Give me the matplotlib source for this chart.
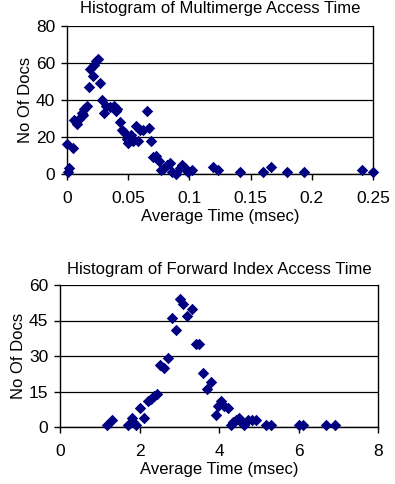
import numpy as np
from matplotlib import pyplot as plt

plt.rcParams["font.family"] = ["Liberation Sans", "DejaVu Sans"]

# Multimerge access time (msec) vs number of docs
mm_time = [0.000, 0.001, 0.002, 0.005, 0.006, 0.008, 0.010, 0.012, 0.013, 0.014,
           0.016, 0.018, 0.019, 0.021, 0.022, 0.024, 0.025, 0.027, 0.029, 0.030,
           0.032, 0.035, 0.038, 0.040, 0.041, 0.043, 0.045, 0.047, 0.049, 0.050,
           0.052, 0.054, 0.056, 0.058, 0.060, 0.062, 0.065, 0.067, 0.069, 0.070,
           0.073, 0.075, 0.077, 0.079, 0.082, 0.084, 0.086, 0.089, 0.092, 0.094,
           0.096, 0.099, 0.102, 0.119, 0.123, 0.141, 0.160, 0.167, 0.180, 0.194,
           0.241, 0.250]
mm_docs = [16, 1, 3, 14, 29, 27, 30, 33, 32, 35,
           37, 47, 57, 53, 59, 61, 62, 49, 40, 33,
           37, 36, 37, 34, 35, 28, 24, 22, 19, 17,
           21, 18, 26, 18, 24, 24, 34, 25, 18, 9,
           10, 7, 2, 3, 5, 6, 1, 0, 3, 5,
           3, 1, 2, 4, 2, 1, 1, 4, 1, 1,
           2, 1]

# Forward index access time (msec) vs number of docs
fi_time = [1.19, 1.31, 1.70, 1.80, 1.84, 1.91, 2.01, 2.11, 2.22, 2.30,
           2.36, 2.43, 2.51, 2.61, 2.71, 2.81, 2.91, 3.02, 3.10, 3.20,
           3.31, 3.42, 3.50, 3.60, 3.71, 3.79, 3.92, 3.98, 4.06, 4.12,
           4.23, 4.29, 4.36, 4.44, 4.51, 4.56, 4.63, 4.73, 4.84, 4.92,
           5.19, 5.30, 6.01, 6.11, 6.68, 6.91]
fi_docs = [1, 3, 1, 4, 2, 1, 8, 4, 11, 12,
           13, 14, 26, 25, 29, 46, 41, 54, 52, 47,
           50, 35, 35, 23, 16, 19, 5, 9, 11, 9,
           8, 1, 2, 3, 4, 2, 1, 3, 3, 3,
           1, 1, 1, 1, 1, 1]

mm_xticks = [0, 0.05, 0.1, 0.15, 0.2, 0.25]
mm_xlabels = ["0", "0.05", "0.1", "0.15", "0.2", "0.25"]
mm_yticks = [0, 20, 40, 60, 80]
fi_xticks = [0, 2, 4, 6, 8]
fi_yticks = [0, 15, 30, 45, 60]

navy = "#000080"

fig = plt.figure(figsize=(3.95, 4.84), dpi=100)
ax1 = fig.add_axes([67 / 395, 1 - 174 / 484, (373 - 67) / 395, (174 - 26) / 484])
ax2 = fig.add_axes([60 / 395, 1 - 427 / 484, (378 - 60) / 395, (427 - 285) / 484])


def style(ax):
    for s in ax.spines.values():
        s.set_linewidth(1.0)
        s.set_color("black")
    ax.spines["top"].set_visible(False)
    ax.yaxis.grid(True, color="black", linewidth=0.9)
    ax.set_axisbelow(True)
    ax.tick_params(axis="both", direction="out", length=4.5, width=1,
                   labelsize=12.5)
    ax.tick_params(axis="x", pad=8)
    ax.tick_params(axis="y", pad=4)


ax1.scatter(mm_time, mm_docs, marker="D", s=34, color=navy, linewidths=0,
            zorder=3, clip_on=False)
ax1.set_xlim(0, 0.25)
ax1.set_ylim(0, 80)
ax1.set_xticks(mm_xticks)
ax1.set_xticklabels(mm_xlabels)
ax1.set_yticks(mm_yticks)
style(ax1)
ax1.set_title("Histogram of Multimerge Access Time", fontsize=12, pad=9)
ax1.set_xlabel("Average Time (msec)", fontsize=12, labelpad=2)
ax1.set_ylabel("No Of Docs", fontsize=12, labelpad=2)

ax2.scatter(fi_time, fi_docs, marker="D", s=34, color=navy, linewidths=0,
            zorder=3, clip_on=False)
ax2.set_xlim(0, 8)
ax2.set_ylim(0, 60)
ax2.set_xticks(fi_xticks)
ax2.set_yticks(fi_yticks)
style(ax2)
ax2.set_title("Histogram of Forward Index Access Time", fontsize=12, pad=8)
ax2.set_xlabel("Average Time (msec)", fontsize=12, labelpad=2)
ax2.set_ylabel("No Of Docs", fontsize=12, labelpad=2)

fig.savefig("out.png", dpi=100)
